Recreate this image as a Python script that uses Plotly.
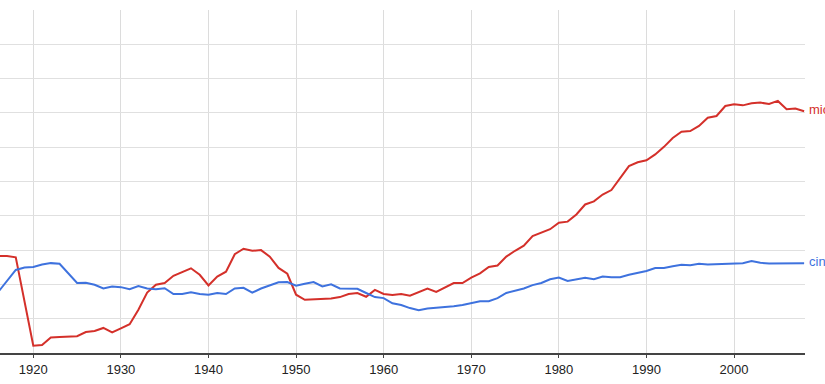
import plotly.graph_objects as go

years = list(range(1916, 2009))

mic = [2.83, 2.83, 2.79, 1.50, 0.21, 0.23, 0.45, 0.47, 0.48, 0.49,
       0.61, 0.64, 0.73, 0.60, 0.72, 0.84, 1.26, 1.76, 1.99, 2.04,
       2.25, 2.36, 2.47, 2.28, 1.97, 2.23, 2.37, 2.88, 3.04, 2.98,
       3.00, 2.81, 2.48, 2.31, 1.70, 1.55, 1.56, 1.57, 1.59, 1.63,
       1.72, 1.75, 1.64, 1.84, 1.72, 1.69, 1.72, 1.67, 1.77, 1.88,
       1.78, 1.92, 2.04, 2.04, 2.20, 2.32, 2.51, 2.55, 2.81, 2.98,
       3.13, 3.41, 3.51, 3.61, 3.80, 3.83, 4.04, 4.33, 4.42, 4.62,
       4.75, 5.09, 5.45, 5.56, 5.62, 5.79, 6.01, 6.27, 6.45, 6.47,
       6.62, 6.86, 6.91, 7.20, 7.25, 7.22, 7.28, 7.30, 7.26, 7.35,
       7.11, 7.13, 7.05]

cin = [1.78, 2.10, 2.42, 2.49, 2.51, 2.58, 2.62, 2.60, 2.33, 2.04,
       2.05, 1.99, 1.88, 1.94, 1.92, 1.86, 1.95, 1.88, 1.86, 1.89,
       1.72, 1.72, 1.77, 1.72, 1.70, 1.75, 1.72, 1.88, 1.90, 1.76,
       1.88, 1.96, 2.06, 2.07, 1.96, 2.02, 2.07, 1.94, 2.00, 1.88,
       1.87, 1.87, 1.75, 1.63, 1.60, 1.45, 1.40, 1.31, 1.25, 1.30,
       1.32, 1.33, 1.36, 1.40, 1.45, 1.51, 1.51, 1.60, 1.75, 1.82,
       1.88, 1.98, 2.04, 2.15, 2.20, 2.10, 2.14, 2.19, 2.15, 2.23,
       2.21, 2.21, 2.28, 2.33, 2.39, 2.48, 2.48, 2.53, 2.57, 2.56,
       2.60, 2.58, 2.59, 2.58, 2.61, 2.62, 2.68, 2.63, 2.61, 2.61,
       2.63, 2.62, 2.62]

labels = ["mic", "cin"]
colors = ["#d4302a", "#3e72de"]

fig = go.Figure()
for name, vals, col in zip(labels, [mic, cin], colors):
    fig.add_trace(go.Scatter(x=years, y=vals, mode="lines", name=name,
                             line=dict(color=col, width=2), hoverinfo="skip"))
    fig.add_annotation(x=years[-1], y=vals[-1], text=name, showarrow=False,
                       xanchor="left", yanchor="middle", xshift=3, yshift=2,
                       font=dict(family="Liberation Sans, Arial", size=13, color=col))

fig.update_layout(
    width=825, height=384,
    margin=dict(l=0, r=20, t=10, b=31),
    paper_bgcolor="white", plot_bgcolor="white",
    showlegend=False,
    xaxis=dict(range=[1916.2, 2008.1], tick0=1920, dtick=10,
               showgrid=True, gridcolor="#dcdcdc", gridwidth=1,
               showline=True, linecolor="#444444", linewidth=2,
               ticks="outside", ticklen=3, tickcolor="#444444",
               tickfont=dict(family="Liberation Sans, Arial", size=13, color="#222222"),
               zeroline=False, fixedrange=True),
    yaxis=dict(range=[0, 10], dtick=1, showgrid=True, gridcolor="#e0e0e0",
               gridwidth=1, showticklabels=False, zeroline=False,
               showline=False, ticks="", fixedrange=True),
)

fig.write_html("out.html")
